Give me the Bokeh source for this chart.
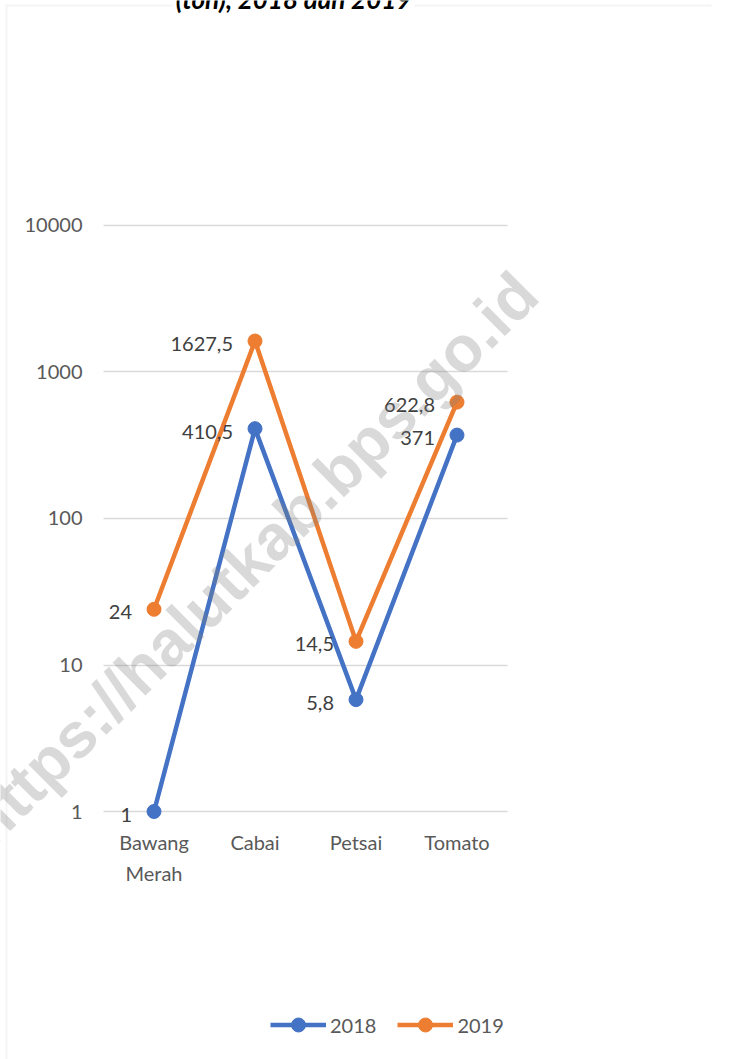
import math
import json
from bokeh.plotting import figure
from bokeh.models import (FactorRange, Range1d, FixedTicker, CustomJSTickFormatter, Legend,
                          LegendItem, Label, BoxAnnotation, ColumnDataSource, LabelSet)
from bokeh.core.properties import value
from bokeh.embed import file_html
from bokeh.resources import INLINE

categories = ["Bawang Merah", "Cabai", "Petsai", "Tomato"]
category_first_lines = {"Bawang Merah": "Bawang"}
category_second_lines = ["Merah"]
values_2018 = [1, 410.5, 5.8, 371]
values_2019 = [24, 1627.5, 14.5, 622.8]
labels_2018 = ["1", "410,5", "5,8", "371"]
labels_2019 = ["24", "1627,5", "14,5", "622,8"]
y_ticks = [1, 10, 100, 1000, 10000]
series_names = ["2018", "2019"]
title_text = "(ton), 2018 dan 2019"
watermark = "https://halutkab.bps.go.id"

BLUE = "#4472C4"
ORANGE = "#ED7D31"
FONT = "Lato"

# blank factors give the page margins around the category area
pad_left = [" "]
pad_right = ["  ", "   "]
x_range = FactorRange(*(pad_left + categories + pad_right),
                      range_padding=0.02, range_padding_units="absolute")
y_range = Range1d(10 ** -1.6928, 10 ** 5.5358)

p = figure(x_range=x_range, y_range=y_range, y_axis_type="log",
           width=754, height=1059, output_backend="svg", toolbar_location=None,
           min_border_left=0, min_border_right=43, min_border_top=0, min_border_bottom=0)
p.outline_line_color = None
p.background_fill_color = "white"
p.border_fill_color = "white"

# axes fixed at the edges of the category area
y_ticker = FixedTicker(ticks=y_ticks)
p.yaxis.ticker = y_ticker
p.yaxis.fixed_location = len(pad_left)
p.yaxis.formatter = CustomJSTickFormatter(code="return String(Math.round(tick));")
p.yaxis.axis_line_color = None
p.yaxis.major_tick_line_color = None
p.yaxis.minor_tick_line_color = None
p.yaxis.major_tick_out = 0
p.yaxis.major_tick_in = 0
p.yaxis.major_label_standoff = 21
p.yaxis.major_label_text_font = FONT
p.yaxis.major_label_text_font_size = "20px"
p.yaxis.major_label_text_color = "#595959"

p.xaxis.fixed_location = y_ticks[0]
p.xaxis.formatter = CustomJSTickFormatter(
    code="const m = %s; return (tick in m) ? m[tick] : tick;" % json.dumps(category_first_lines))
p.xaxis.axis_line_color = None
p.xaxis.major_tick_line_color = None
p.xaxis.major_tick_out = 0
p.xaxis.major_tick_in = 0
p.xaxis.major_label_standoff = 18
p.xaxis.major_label_text_font = FONT
p.xaxis.major_label_text_font_size = "20px"
p.xaxis.major_label_text_color = "#595959"

p.xgrid.grid_line_color = None
p.ygrid.ticker = y_ticker
p.ygrid.cross_bounds = (len(pad_left), len(pad_left) + len(categories))
p.ygrid.grid_line_color = "#d9d9d9"
p.ygrid.grid_line_width = 1.5
p.ygrid.minor_grid_line_color = None

# second line of the first category label
p.text(x=categories[:1], y=y_ticks[:1], text=category_second_lines, y_offset=61,
       text_align="center", text_baseline="middle",
       text_font=value(FONT), text_font_size="20px", text_color="#595959")

src18 = ColumnDataSource(dict(x=categories, y=values_2018, t=labels_2018))
src19 = ColumnDataSource(dict(x=categories, y=values_2019, t=labels_2019))

l18 = p.line("x", "y", source=src18, line_color=BLUE, line_width=4.5)
c18 = p.scatter("x", "y", source=src18, size=14, fill_color=BLUE, line_color=BLUE)
l19 = p.line("x", "y", source=src19, line_color=ORANGE, line_width=4.5)
c19 = p.scatter("x", "y", source=src19, size=14, fill_color=ORANGE, line_color=ORANGE)

for src in (src18, src19):
    ls = LabelSet(x="x", y="y", text="t", source=src, x_offset=-22, y_offset=-3,
                  text_align="right", text_baseline="middle",
                  text_font=value(FONT), text_font_size="20px", text_color="#404040")
    p.add_layout(ls)

legend = Legend(items=[LegendItem(label=series_names[0], renderers=[l18, c18]),
                       LegendItem(label=series_names[1], renderers=[l19, c19])],
                orientation="horizontal", location=(270, 17),
                glyph_width=56, glyph_height=35, label_standoff=4, spacing=21,
                padding=0, margin=0, border_line_alpha=0, background_fill_alpha=0,
                label_text_font=FONT, label_text_font_size="20px",
                label_text_color="#595959")
p.add_layout(legend)

# chart area border
border = BoxAnnotation(left=6, right=900, top=1054, bottom=-50,
                       left_units="screen", right_units="screen",
                       top_units="screen", bottom_units="screen",
                       fill_alpha=0, line_color="#d9d9d9", line_width=2)
p.add_layout(border)

# cut-off title (with white box over the border)
p.add_layout(Label(x=293, y=1061, x_units="screen", y_units="screen", text=title_text,
                   text_align="center", text_baseline="alphabetic",
                   text_font=FONT, text_font_size="26px", text_font_style="bold italic",
                   text_color="#000000", background_fill_color="white",
                   padding=3))

# watermark
p.add_layout(Label(x=526, y=776, x_units="screen", y_units="screen", text=watermark,
                   angle=math.pi / 4, text_align="right", text_baseline="alphabetic",
                   text_font="Liberation Sans", text_font_size="64px",
                   text_font_style="bold", text_color="#808080", text_alpha=0.3,
                   level="overlay"))

open("out.html", "w").write(file_html(p, INLINE))
